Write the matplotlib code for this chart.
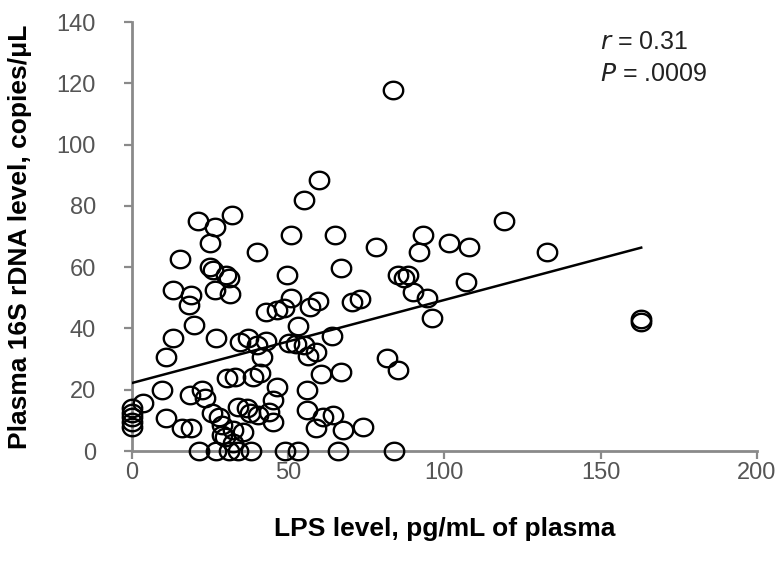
import numpy as np
import matplotlib
matplotlib.use("Agg")
import matplotlib.pyplot as plt
from matplotlib.path import Path

plt.rcParams['font.family'] = ['Liberation Sans', 'DejaVu Sans']

# LPS level (pg/mL) and plasma 16S rDNA level (copies/uL)
lps = [83.7, 60, 55, 32, 21, 26.6, 25, 119, 133, 40, 51, 65, 78, 93, 92,
       101.5, 108, 107, 15.4, 25, 26, 30, 31, 49.5, 67, 13, 19, 26.6, 31.4,
       18.4, 20, 85, 87, 88.5, 90, 94.5, 96, 163, 163,
       43, 46.5, 48.5, 51, 57, 59.6, 70.5, 73,
       53, 50.3, 52.5, 55, 56.5, 59, 64, 60.5, 67, 81.7, 85, 56, 46.5,
       56, 61, 64.4, 59, 67.6, 74,
       13, 11, 27, 34.6, 37, 40, 43, 41.7, 30.4, 33, 38.8, 41, 9.6, 3.5,
       18.6, 22.4, 23.4, 11, 16, 19, 25.6, 28, 28.8, 28.8, 29.8, 34, 36.8,
       37.8, 40.4, 32.4, 35.6, 32.4, 45, 44, 45,
       21.5, 27, 31, 34, 38, 49, 53, 66, 84,
       0, 0, 0, 0, 0]
rdna = [117.8, 88.5, 82, 77, 75, 73, 68, 75, 65, 65, 70.5, 70.5, 66.6, 70.5, 65,
        68, 66.6, 55, 62.6, 60, 59, 57.4, 56.5, 57.4, 59.7, 52.5, 51, 52.5, 51.2,
        47.8, 41, 57.4, 56.5, 57.4, 52, 50, 43.4, 43, 42,
        45.5, 46, 46.7, 50, 47, 49, 48.6, 49.6,
        40.8, 35.4, 35, 34.6, 31, 32.3, 37.6, 25, 25.8, 30.5, 26.4, 20, 21,
        13.4, 11.2, 11.7, 7.6, 6.9, 7.8,
        37, 30.7, 37, 35.6, 37, 34.6, 36, 30.7, 23.8, 24, 24.2, 25.5, 20, 15.7,
        18.3, 20, 17.3, 10.8, 7.5, 7.5, 12.4, 11, 8.5, 5.2, 4.6, 14.4, 14,
        12.4, 11.7, 6.9, 6.2, 2.6, 16.6, 12.7, 9.5,
        0, 0, 0, 0, 0, 0, 0, 0, 0,
        8, 9.5, 11, 12.5, 14]

# regression line as printed in the figure
fit_intercept = 22.2
fit_slope = 0.271
r_text = "0.31"
p_text = ".0009"

x = np.array(lps)
y = np.array(rdna)

# the published figure is a bit stretched sideways, so the circles are ovals
t = np.linspace(0, 2 * np.pi, 60)
oval = Path(np.column_stack([np.cos(t), 0.9 * np.sin(t)]))

fig = plt.figure(figsize=(7.81, 5.72), dpi=100)
ax = fig.add_axes([0.169, 0.2115, 0.8, 0.75])

ax.plot(x, y, linestyle='none', marker=oval, markersize=14,
        markerfacecolor='none', markeredgecolor='black',
        markeredgewidth=1.7, clip_on=False, zorder=3)

fx = np.array([0, x.max()])
ax.plot(fx, fit_slope * fx + fit_intercept, '-', color='black',
        linewidth=1.8, zorder=4)

ax.set_xlim(0, 200)
ax.set_ylim(0, 140)
ax.set_xticks(range(0, 201, 50))
ax.set_yticks(range(0, 141, 20))

for side in ['top', 'right']:
    ax.spines[side].set_visible(False)
for side in ['left', 'bottom']:
    ax.spines[side].set_color('#8a8a8a')
    ax.spines[side].set_linewidth(2)
ax.tick_params(direction='out', length=6, width=1.6, color='#8a8a8a',
               labelsize=17, labelcolor='#555555')
ax.tick_params(axis='x', pad=2)
ax.tick_params(axis='y', pad=20)

ax.set_xlabel("LPS level, pg/mL of plasma", fontsize=19, fontweight='bold',
              labelpad=24)
ax.set_ylabel("Plasma 16S rDNA level, copies/\u03bcL", fontsize=19,
              fontweight='bold', labelpad=18)

ax.text(0.749, 0.982, "$\\it{r}$ = " + r_text, transform=ax.transAxes,
        fontsize=18, color='#222222', va='top')
ax.text(0.749, 0.907, "$\\it{P}$ = " + p_text, transform=ax.transAxes,
        fontsize=18, color='#222222', va='top')

fig.savefig("out.png", dpi=100)
